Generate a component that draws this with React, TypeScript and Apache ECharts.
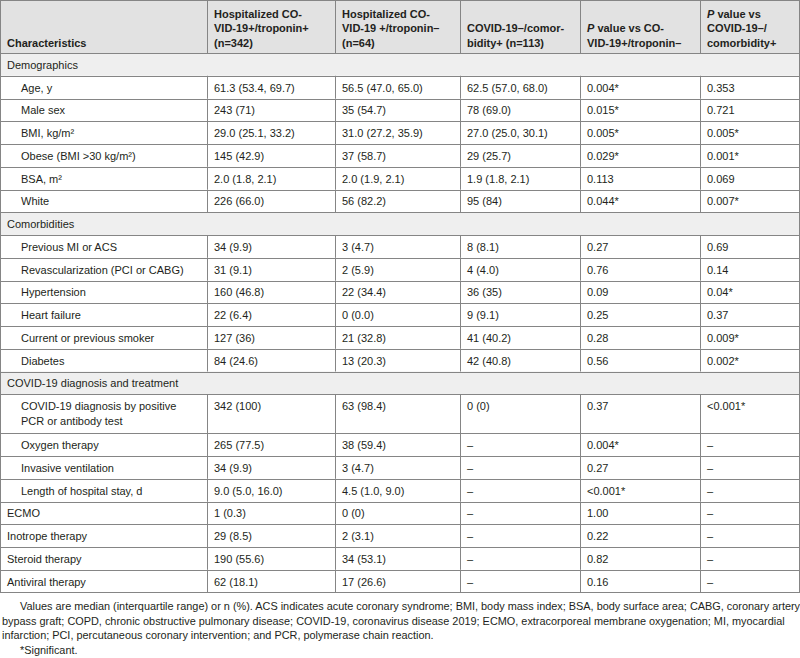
import React, { useEffect, useRef } from "react";
import * as echarts from "echarts";

const headers = [
  "Characteristics",
  "Hospitalized CO-\nVID-19+/troponin+\n(n=342)",
  "Hospitalized CO-\nVID-19 +/troponin–\n(n=64)",
  "COVID-19–/comor-\nbidity+ (n=113)",
  "{bi|P} value vs CO-\nVID-19+/troponin–",
  "{bi|P} value vs\nCOVID-19–/\ncomorbidity+",
];

// 0 = section row, 1 = indented item, 2 = plain item
const rowLevel = [0, 1, 1, 1, 1, 1, 1, 0, 1, 1, 1, 1, 1, 1, 0, 1, 1, 1, 1, 2, 2, 2, 2];

const characteristics = [
  "Demographics",
  "Age, y",
  "Male sex",
  "BMI, kg/m²",
  "Obese (BMI >30 kg/m²)",
  "BSA, m²",
  "White",
  "Comorbidities",
  "Previous MI or ACS",
  "Revascularization (PCI or CABG)",
  "Hypertension",
  "Heart failure",
  "Current or previous smoker",
  "Diabetes",
  "COVID-19 diagnosis and treatment",
  "COVID-19 diagnosis by positive\nPCR or antibody test",
  "Oxygen therapy",
  "Invasive ventilation",
  "Length of hospital stay, d",
  "ECMO",
  "Inotrope therapy",
  "Steroid therapy",
  "Antiviral therapy",
];

const covidTropPos = [
  "", "61.3 (53.4, 69.7)", "243 (71)", "29.0 (25.1, 33.2)", "145 (42.9)", "2.0 (1.8, 2.1)", "226 (66.0)",
  "", "34 (9.9)", "31 (9.1)", "160 (46.8)", "22 (6.4)", "127 (36)", "84 (24.6)",
  "", "342 (100)", "265 (77.5)", "34 (9.9)", "9.0 (5.0, 16.0)", "1 (0.3)", "29 (8.5)", "190 (55.6)", "62 (18.1)",
];

const covidTropNeg = [
  "", "56.5 (47.0, 65.0)", "35 (54.7)", "31.0 (27.2, 35.9)", "37 (58.7)", "2.0 (1.9, 2.1)", "56 (82.2)",
  "", "3 (4.7)", "2 (5.9)", "22 (34.4)", "0 (0.0)", "21 (32.8)", "13 (20.3)",
  "", "63 (98.4)", "38 (59.4)", "3 (4.7)", "4.5 (1.0, 9.0)", "0 (0)", "2 (3.1)", "34 (53.1)", "17 (26.6)",
];

const covidNegComorb = [
  "", "62.5 (57.0, 68.0)", "78 (69.0)", "27.0 (25.0, 30.1)", "29 (25.7)", "1.9 (1.8, 2.1)", "95 (84)",
  "", "8 (8.1)", "4 (4.0)", "36 (35)", "9 (9.1)", "41 (40.2)", "42 (40.8)",
  "", "0 (0)", "–", "–", "–", "–", "–", "–", "–",
];

const pVsTropNeg = [
  "", "0.004*", "0.015*", "0.005*", "0.029*", "0.113", "0.044*",
  "", "0.27", "0.76", "0.09", "0.25", "0.28", "0.56",
  "", "0.37", "0.004*", "0.27", "<0.001*", "1.00", "0.22", "0.82", "0.16",
];

const pVsComorb = [
  "", "0.353", "0.721", "0.005*", "0.001*", "0.069", "0.007*",
  "", "0.69", "0.14", "0.04*", "0.37", "0.009*", "0.002*",
  "", "<0.001*", "–", "–", "–", "–", "–", "–", "–",
];

const footnotes = [
  "Values are median (interquartile range) or n (%). ACS indicates acute coronary syndrome; BMI, body mass index; BSA, body surface area; CABG, coronary artery",
  "bypass graft; COPD, chronic obstructive pulmonary disease; COVID-19, coronavirus disease 2019; ECMO, extracorporeal membrane oxygenation; MI, myocardial",
  "infarction; PCI, percutaneous coronary intervention; and PCR, polymerase chain reaction.",
  "*Significant.",
];

export default function App() {
  const ref = useRef<HTMLDivElement>(null);
  useEffect(() => {
    if (!ref.current) return;
    const chart = echarts.init(ref.current, undefined, { renderer: "svg" });
    const FONT = "'Liberation Sans', Arial, Helvetica, sans-serif";
    const TXT = "#231f20";
    const LINE = "#858585";
    const colX = [0.5, 207.5, 335.5, 460.5, 580.5, 700.5, 799.5];
    const headerH = 53;
    const rowH = 22.75;
    const tallH = 39;
    const columns = [characteristics, covidTropPos, covidTropNeg, covidNegComorb, pVsTropNeg, pVsComorb];

    const tops: number[] = [];
    let y = headerH;
    characteristics.forEach((c) => {
      tops.push(y);
      y += c.includes("\n") ? tallH : rowH;
    });
    const tableBottom = y;
    const snap = (v: number) => Math.round(v) + 0.5;

    const els: any[] = [];
    els.push({ type: "rect", shape: { x: 0, y: 0, width: 800, height: headerH }, style: { fill: "#e2e2e2" }, silent: true });
    characteristics.forEach((c, i) => {
      const h = (i + 1 < tops.length ? tops[i + 1] : tableBottom) - tops[i];
      if (rowLevel[i] === 0) {
        els.push({ type: "rect", shape: { x: 0, y: tops[i], width: 800, height: h }, style: { fill: "#efefef" }, silent: true });
      }
    });
    const hl = (yy: number) =>
      els.push({ type: "line", shape: { x1: 0, y1: snap(yy), x2: 800, y2: snap(yy) }, style: { stroke: LINE, lineWidth: 1 }, silent: true });
    hl(0);
    tops.forEach((t) => hl(t));
    hl(tableBottom - 1);
    const vl = (x: number, y1: number, y2: number) =>
      els.push({ type: "line", shape: { x1: x, y1, x2: x, y2 }, style: { stroke: LINE, lineWidth: 1 }, silent: true });
    vl(colX[0], 0, tableBottom);
    vl(colX[6], 0, tableBottom);
    for (let k = 1; k < 6; k++) vl(colX[k], 0, headerH);
    characteristics.forEach((c, i) => {
      if (rowLevel[i] === 0) return;
      const bot = i + 1 < tops.length ? tops[i + 1] : tableBottom;
      for (let k = 1; k < 6; k++) vl(colX[k], tops[i], bot);
    });

    headers.forEach((h, k) => {
      els.push({
        type: "text",
        x: Math.floor(colX[k]) + 7,
        y: headerH - 3,
        silent: true,
        style: {
          text: h,
          fill: TXT,
          fontFamily: FONT,
          fontSize: 11,
          fontWeight: "bold",
          lineHeight: 14.5,
          verticalAlign: "bottom",
          align: "left",
          rich: {
            bi: { fontStyle: "italic", fontWeight: "bold", fontSize: 11, fontFamily: FONT, fill: TXT, lineHeight: 14.5 },
          },
        },
      });
    });

    characteristics.forEach((c, i) => {
      const tall = c.includes("\n");
      columns.forEach((col, k) => {
        const t = col[i];
        if (!t) return;
        let x = Math.floor(colX[k]) + 7;
        if (k === 0 && rowLevel[i] === 1) x = 21;
        const h = tall ? tallH : rowH;
        els.push({
          type: "text",
          x,
          y: tall ? tops[i] + 4.5 : tops[i] + h / 2 + 0.5,
          silent: true,
          style: {
            text: t,
            fill: TXT,
            fontFamily: FONT,
            fontSize: 11,
            lineHeight: 15,
            verticalAlign: tall ? "top" : "middle",
            align: "left",
          },
        });
      });
    });

    const fnX = [20, 2, 2, 20];
    footnotes.forEach((f, i) => {
      els.push({
        type: "text",
        x: fnX[i],
        y: 606 + i * 14.5,
        silent: true,
        style: { text: f, fill: TXT, fontFamily: FONT, fontSize: 10.9, verticalAlign: "middle", align: "left" },
      });
    });

    chart.setOption({
      animation: false,
      backgroundColor: "#ffffff",
      graphic: { elements: els },
    });
    return () => chart.dispose();
  }, []);
  return <div ref={ref} style={{ position: "fixed", left: 0, top: 0, width: 800, height: 658 }} />;
}
